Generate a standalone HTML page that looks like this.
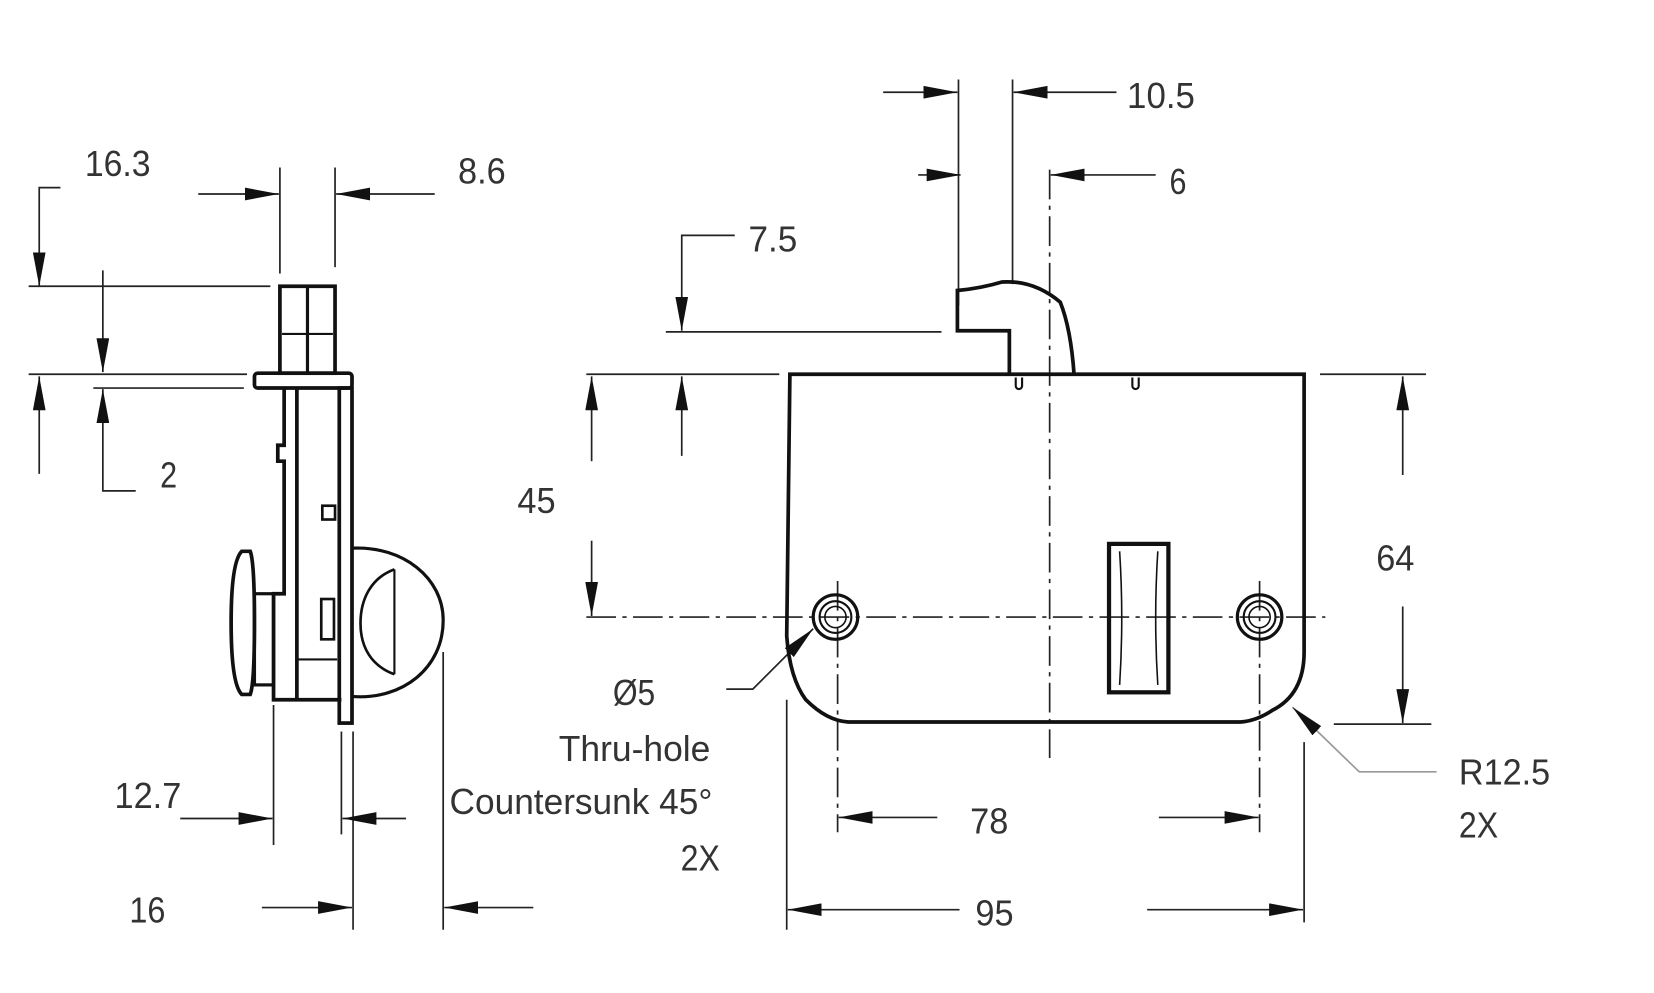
<!DOCTYPE html>
<html><head><meta charset="utf-8"><style>
html,body{margin:0;padding:0;background:#fff;}
svg{display:block;}
text{font-family:"Liberation Sans",sans-serif;font-size:34px;fill:#333;}
</style></head><body>
<svg width="1654" height="993" viewBox="0 0 1560 936.6" preserveAspectRatio="none" xmlns="http://www.w3.org/2000/svg">
<defs>
<marker id="a" markerWidth="32" markerHeight="12" refX="32" refY="6" orient="auto" markerUnits="userSpaceOnUse">
<path d="M0,0 L32,6 L0,12 Z" fill="#111"/></marker>
</defs>
<g stroke="#222" stroke-width="1.6" fill="none">
<polyline points="57,177 37,177 37,270" marker-end="url(#a)"/>
<line x1="27" y1="270" x2="255" y2="270"/>
<line x1="264" y1="158" x2="264" y2="258"/>
<line x1="316" y1="158" x2="316" y2="252"/>
<line x1="187" y1="183" x2="263" y2="183" marker-end="url(#a)"/>
<line x1="410" y1="183" x2="317" y2="183" marker-end="url(#a)"/>
<line x1="27" y1="353" x2="233" y2="353"/>
<line x1="88" y1="366" x2="230" y2="366"/>
<line x1="97" y1="255" x2="97" y2="351" marker-end="url(#a)"/>
<polyline points="128,463 97,463 97,367" marker-end="url(#a)"/>
<line x1="37" y1="447" x2="37" y2="355" marker-end="url(#a)"/>
<line x1="258" y1="665" x2="258" y2="797"/>
<line x1="322" y1="690" x2="322" y2="787"/>
<line x1="333" y1="690" x2="333" y2="877"/>
<line x1="418" y1="615" x2="418" y2="877"/>
<line x1="170" y1="772" x2="257" y2="772" marker-end="url(#a)"/>
<line x1="383" y1="772" x2="323" y2="772" marker-end="url(#a)"/>
<line x1="247" y1="856" x2="332" y2="856" marker-end="url(#a)"/>
<line x1="503" y1="856" x2="419" y2="856" marker-end="url(#a)"/>
</g>
<g stroke="#111" stroke-width="3.5" fill="none">
<rect x="264" y="270" width="52" height="82"/>
<line x1="290" y1="270" x2="290" y2="352" stroke-width="3"/>
<line x1="266" y1="315" x2="314" y2="315" stroke-width="2"/>
<rect x="240" y="352" width="92" height="14" rx="3"/>
<polyline points="268,366 268,420 262,420 262,435 268,435 268,560 258,560 258,660 322,660"/>
<line x1="280" y1="366" x2="280" y2="660"/>
<rect x="320" y="366" width="12" height="316"/>
<rect x="304" y="477" width="12" height="13" stroke-width="2.5"/>
<rect x="303" y="565" width="12" height="38" stroke-width="2.5"/>
<line x1="280" y1="622" x2="318" y2="622" stroke-width="2"/>
<path d="M228,520 Q218,530 218,587 Q218,645 228,655 L236,655 Q240,645 240,587 Q240,530 236,520 Z"/>
<rect x="240" y="560" width="18" height="86" stroke-width="3"/>
<path d="M333,517 C380,515 418,545 418,585 C418,630 380,660 333,657" stroke-width="3"/>
<path d="M372,537 C350,545 340,565 340,588 C340,610 350,628 372,636" stroke-width="2.5"/>
<line x1="372" y1="537" x2="372" y2="636" stroke-width="2"/>
</g>
<g stroke="#222" stroke-width="1.6" fill="none">
<line x1="904" y1="75" x2="904" y2="288"/>
<line x1="955" y1="75" x2="955" y2="268"/>
<line x1="833" y1="87" x2="903" y2="87" marker-end="url(#a)"/>
<line x1="1053" y1="87" x2="956" y2="87" marker-end="url(#a)"/>
<line x1="866" y1="165" x2="906" y2="165" marker-end="url(#a)"/>
<line x1="1090" y1="165" x2="991" y2="165" marker-end="url(#a)"/>
<polyline points="693,222 643,222 643,312" marker-end="url(#a)"/>
<line x1="628" y1="313" x2="888" y2="313"/>
<line x1="553" y1="353" x2="735" y2="353"/>
<line x1="558" y1="435" x2="558" y2="355" marker-end="url(#a)"/>
<line x1="643" y1="430" x2="643" y2="355" marker-end="url(#a)"/>
<line x1="558" y1="510" x2="558" y2="581" marker-end="url(#a)"/>
<line x1="1245" y1="353" x2="1345" y2="353"/>
<line x1="1258" y1="683" x2="1350" y2="683"/>
<line x1="1323" y1="448" x2="1323" y2="355" marker-end="url(#a)"/>
<line x1="1323" y1="572" x2="1323" y2="682" marker-end="url(#a)"/>
<polyline points="685,650 710,650 767,593" marker-end="url(#a)"/>
<polyline points="1355,728 1282,728 1219,667" stroke="#999" marker-end="url(#a)"/>
<line x1="742" y1="660" x2="742" y2="877"/>
<line x1="1230" y1="700" x2="1230" y2="870"/>
<line x1="884" y1="771" x2="791" y2="771" marker-end="url(#a)"/>
<line x1="1093" y1="771" x2="1187" y2="771" marker-end="url(#a)"/>
<line x1="905" y1="858" x2="743" y2="858" marker-end="url(#a)"/>
<line x1="1082" y1="858" x2="1229" y2="858" marker-end="url(#a)"/>
<g stroke-dasharray="28,6,4,6">
<line x1="990" y1="160" x2="990" y2="715"/>
<line x1="553" y1="582" x2="1250" y2="582"/>
<line x1="790" y1="548" x2="790" y2="785"/>
<line x1="1188" y1="548" x2="1188" y2="785"/>
</g>
</g>
<g stroke="#111" stroke-width="3.5" fill="none">
<path d="M745,353 L1230,353 L1230,615 Q1230,655 1200,670 Q1185,680 1170,681 L800,681 Q780,680 760,660 Q745,640 742,600 Z"/>
<path d="M952,353 L952,312 L903,312 L903,274 Q925,272 945,266 Q975,264 1000,285 Q1010,310 1013,353"/>
<path d="M958,356 v8 a3,3 0 0 0 6,0 v-8 M1068,356 v8 a3,3 0 0 0 6,0 v-8" stroke-width="2"/>
<rect x="1046" y="513" width="56" height="140" stroke-width="4"/>
<path d="M1056,520 Q1060,583 1056,646 M1092,520 Q1088,583 1092,646" stroke-width="1.5"/>
<circle cx="788" cy="582" r="21" stroke-width="3"/>
<circle cx="788" cy="582" r="15" stroke-width="2"/>
<circle cx="788" cy="582" r="10" stroke-width="1.5"/>
<circle cx="1188" cy="582" r="21" stroke-width="3"/>
<circle cx="1188" cy="582" r="15" stroke-width="2"/>
<circle cx="1188" cy="582" r="10" stroke-width="1.5"/>
</g>
<text x="80" y="166" textLength="62" lengthAdjust="spacingAndGlyphs">16.3</text>
<text x="432" y="173" textLength="45" lengthAdjust="spacingAndGlyphs">8.6</text>
<text x="151" y="460" textLength="16" lengthAdjust="spacingAndGlyphs">2</text>
<text x="108" y="762" textLength="63" lengthAdjust="spacingAndGlyphs">12.7</text>
<text x="122" y="870" textLength="34" lengthAdjust="spacingAndGlyphs">16</text>
<text x="1063" y="102" textLength="64" lengthAdjust="spacingAndGlyphs">10.5</text>
<text x="1103" y="183" textLength="16" lengthAdjust="spacingAndGlyphs">6</text>
<text x="706" y="237" textLength="46" lengthAdjust="spacingAndGlyphs">7.5</text>
<text x="488" y="484" textLength="36" lengthAdjust="spacingAndGlyphs">45</text>
<text x="1298" y="538" textLength="36" lengthAdjust="spacingAndGlyphs">64</text>
<text x="578" y="665" textLength="40" lengthAdjust="spacingAndGlyphs">Ø5</text>
<text x="527" y="718" textLength="143" lengthAdjust="spacingAndGlyphs">Thru-hole</text>
<text x="424" y="768" textLength="248" lengthAdjust="spacingAndGlyphs">Countersunk 45°</text>
<text x="642" y="821" textLength="37" lengthAdjust="spacingAndGlyphs">2X</text>
<text x="1376" y="740" textLength="86" lengthAdjust="spacingAndGlyphs">R12.5</text>
<text x="1376" y="790" textLength="37" lengthAdjust="spacingAndGlyphs">2X</text>
<text x="915" y="786" textLength="36" lengthAdjust="spacingAndGlyphs">78</text>
<text x="920" y="873" textLength="36" lengthAdjust="spacingAndGlyphs">95</text>
</svg>
</body></html>
